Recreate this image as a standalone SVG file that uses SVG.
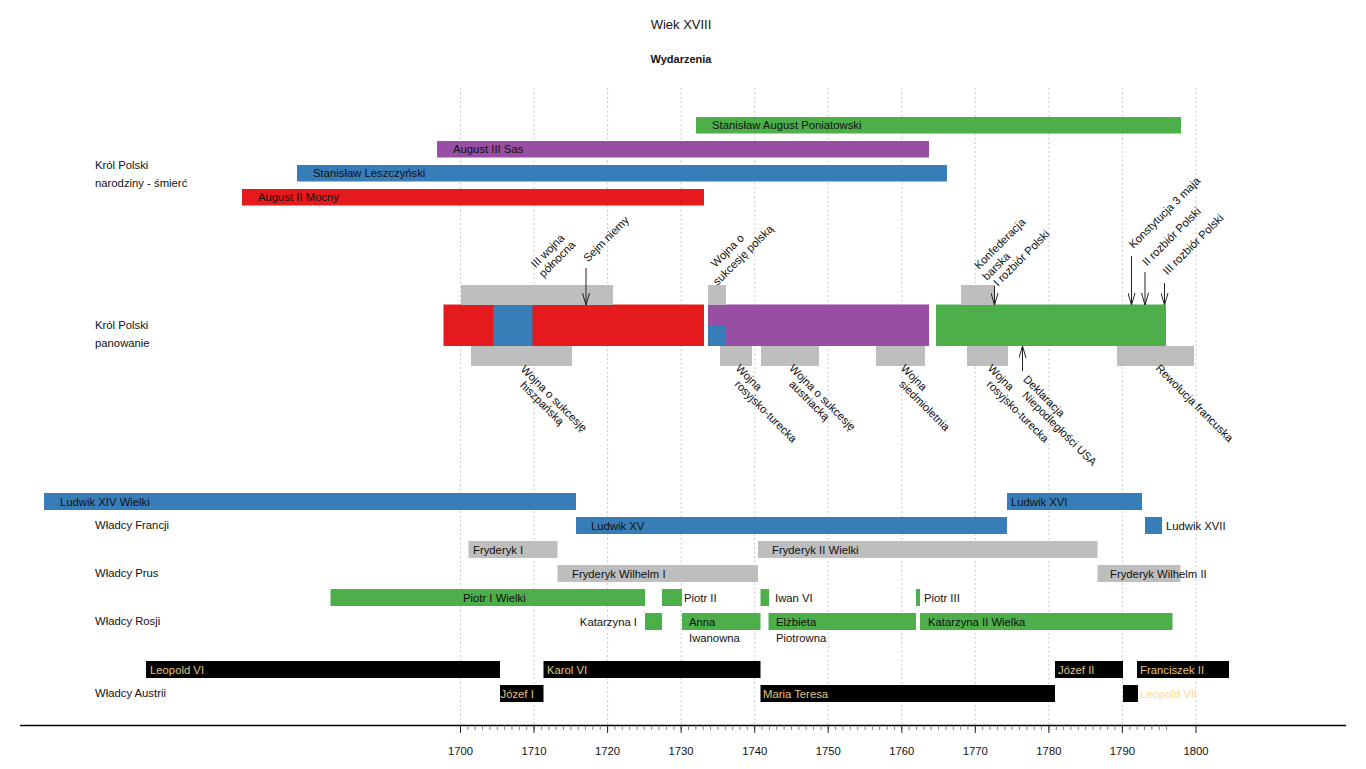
<svg xmlns="http://www.w3.org/2000/svg" width="1366" height="769" viewBox="0 0 1366 769">
<style>
text{font-family:"Liberation Sans",Arial,sans-serif;font-size:11.3px;fill:#111}
.title{font-size:13px}
.bold{font-weight:bold;font-size:11px}
.grid{stroke:#c8c8c8;stroke-width:1;stroke-dasharray:2,2.5}
.red{fill:#e41a1c}.blue{fill:#377eb8}.green{fill:#4daf4a}.purple{fill:#984ea3}.gray{fill:#bebebe}.black{fill:#000}
text.gold{fill:#e2c47e}
text.pale{fill:#ffd98c}
.arr{stroke:#222;stroke-width:1;fill:none}
</style>
<defs>
<marker id="ah" viewBox="0 0 12 8" refX="12" refY="4" markerWidth="12" markerHeight="8" markerUnits="userSpaceOnUse" orient="auto">
<path d="M0,0.5 L12,4 L0,7.5" fill="none" stroke="#222" stroke-width="1"/>
</marker>
</defs>
<rect width="1366" height="769" fill="#fff"/>

<g id="titles">
<text class="title" x="681" y="29" text-anchor="middle">Wiek XVIII</text>
<text class="bold" x="681" y="63" text-anchor="middle">Wydarzenia</text>
</g>

<g id="grid">
<path class="grid" d="M460.5,88V725M534,88V725M607.6,88V725M681.1,88V725M754.7,88V725M828.2,88V725M901.8,88V725M975.3,88V725M1048.9,88V725M1122.4,88V725M1196,88V725"/>
</g>

<g id="row-labels">
<text x="95" y="169">Król Polski</text>
<text x="95" y="187">narodziny - śmierć</text>
<text x="95" y="329">Król Polski</text>
<text x="95" y="347">panowanie</text>
<text x="95" y="529">Władcy Francji</text>
<text x="95" y="577">Władcy Prus</text>
<text x="95" y="625">Władcy Rosji</text>
<text x="95" y="697">Władcy Austrii</text>
</g>

<g id="life-poniatowski"><rect class="green" x="696" y="117" width="485" height="16.5"/><text x="712" y="129">Stanisław August Poniatowski</text></g>
<g id="life-august3"><rect class="purple" x="437" y="141" width="492" height="16.5"/><text x="453" y="153">August III Sas</text></g>
<g id="life-leszczynski"><rect class="blue" x="297" y="165" width="650" height="16.5"/><text x="313" y="177">Stanisław Leszczyński</text></g>
<g id="life-august2"><rect class="red" x="242" y="189" width="462" height="16.5"/><text x="258" y="201">August II Mocny</text></g>

<g id="reign">
<rect class="red" x="443.5" y="304.5" width="260.5" height="41.5"/>
<rect class="blue" x="493.5" y="304.5" width="39" height="41.5"/>
<rect class="purple" x="708" y="304.5" width="221" height="41.5"/>
<rect class="blue" x="708" y="325" width="18" height="21"/>
<rect class="green" x="936" y="304.5" width="230" height="41.5"/>
</g>

<g id="ev-wojna-polnocna"><rect class="gray" x="461" y="285" width="152" height="20"/>
<text transform="translate(535.5,268.5) rotate(-45)">III wojna</text>
<text transform="translate(543.5,278) rotate(-45)">północna</text></g>
<g id="ev-sejm"><text transform="translate(588,262.5) rotate(-45)">Sejm niemy</text></g>
<g id="ev-sukcesja-polska"><rect class="gray" x="708" y="285" width="18" height="20"/>
<text transform="translate(715.5,268) rotate(-45)">Wojna o</text>
<text transform="translate(717.5,286) rotate(-45)">sukcesję polską</text></g>
<g id="ev-konfederacja"><rect class="gray" x="961" y="285" width="34" height="20"/>
<text transform="translate(979,270) rotate(-45)">Konfederacja</text>
<text transform="translate(987,281) rotate(-45)">barska</text>
<text transform="translate(998,287) rotate(-45)">I rozbiór Polski</text></g>
<g id="ev-konstytucja"><text transform="translate(1133.5,249) rotate(-45)">Konstytucja 3 maja</text></g>
<g id="ev-rozbior2"><text transform="translate(1147,266.5) rotate(-45)">II rozbiór Polski</text></g>
<g id="ev-rozbior3"><text transform="translate(1167.5,275.5) rotate(-45)">III rozbiór Polski</text></g>

<g id="ev-hiszpanska"><rect class="gray" x="471" y="346" width="101" height="20"/>
<text transform="translate(520,370) rotate(45)">Wojna o sukcesję</text>
<text transform="translate(519.5,386) rotate(45)">hiszpańską</text></g>
<g id="ev-rosyjsko-turecka1"><rect class="gray" x="720" y="346" width="32" height="20"/>
<text transform="translate(735,369) rotate(45)">Wojna</text>
<text transform="translate(734,385) rotate(45)">rosyjsko-turecka</text></g>
<g id="ev-austriacka"><rect class="gray" x="761" y="346" width="58" height="20"/>
<text transform="translate(788.5,369) rotate(45)">Wojna o sukcesję</text>
<text transform="translate(788.5,385) rotate(45)">austriacką</text></g>
<g id="ev-siedmioletnia"><rect class="gray" x="876" y="346" width="49" height="20"/>
<text transform="translate(900,369) rotate(45)">Wojna</text>
<text transform="translate(898.5,385) rotate(45)">siedmioletnia</text></g>
<g id="ev-rosyjsko-turecka2"><rect class="gray" x="967" y="346" width="41" height="20"/>
<text transform="translate(987,369) rotate(45)">Wojna</text>
<text transform="translate(986,385) rotate(45)">rosyjsko-turecka</text></g>
<g id="ev-deklaracja">
<text transform="translate(1022.5,380) rotate(45)">Deklaracja</text>
<text transform="translate(1021.5,396) rotate(45)">Niepodległości USA</text></g>
<g id="ev-rewolucja"><rect class="gray" x="1117" y="346" width="77" height="20"/>
<text transform="translate(1155,369) rotate(45)">Rewolucja francuska</text></g>

<g id="connectors">
<path class="arr" d="M586,268V305" marker-end="url(#ah)"/>
<path class="arr" d="M994.5,286V305" marker-end="url(#ah)"/>
<path class="arr" d="M1131.5,256V305" marker-end="url(#ah)"/>
<path class="arr" d="M1145,272V305" marker-end="url(#ah)"/>
<path class="arr" d="M1164.5,283V305" marker-end="url(#ah)"/>
<path class="arr" d="M1022.5,371V346" marker-end="url(#ah)"/>
</g>

<g id="france">
<g id="ludwik14"><rect class="blue" x="44" y="493" width="532" height="17"/><text x="60" y="505.5">Ludwik XIV Wielki</text></g>
<g id="ludwik15"><rect class="blue" x="576" y="517" width="431" height="17"/><text x="591" y="529.5">Ludwik XV</text></g>
<g id="ludwik16"><rect class="blue" x="1007" y="493" width="135" height="17"/><text x="1011" y="505.5">Ludwik XVI</text></g>
<g id="ludwik17"><rect class="blue" x="1145" y="517" width="17" height="17"/><text x="1166" y="529.5">Ludwik XVII</text></g>
</g>
<g id="prussia">
<g id="fryderyk1"><rect class="gray" x="468.5" y="541" width="89" height="17"/><text x="473" y="553.5">Fryderyk I</text></g>
<g id="fw1"><rect class="gray" x="557.5" y="565" width="200.5" height="17"/><text x="572" y="577.5">Fryderyk Wilhelm I</text></g>
<g id="fryderyk2"><rect class="gray" x="758" y="541" width="339.5" height="17"/><text x="772" y="553.5">Fryderyk II Wielki</text></g>
<g id="fw2"><rect class="gray" x="1097.5" y="565" width="83" height="17"/><text x="1110" y="577.5">Fryderyk Wilhelm II</text></g>
</g>
<g id="russia">
<g id="piotr1"><rect class="green" x="330.5" y="589" width="314.5" height="17"/><text x="463" y="601.5">Piotr I Wielki</text></g>
<g id="katarzyna1"><rect class="green" x="645" y="613" width="17" height="17"/><text x="637" y="625.5" text-anchor="end">Katarzyna I</text></g>
<g id="piotr2"><rect class="green" x="662" y="589" width="20" height="17"/><text x="684" y="601.5">Piotr II</text></g>
<g id="anna"><rect class="green" x="682" y="613" width="78.5" height="17"/><text x="689" y="625.5">Anna</text><text x="689" y="642">Iwanowna</text></g>
<g id="iwan6"><rect class="green" x="760.5" y="589" width="8.5" height="17"/><text x="775" y="601.5">Iwan VI</text></g>
<g id="elzbieta"><rect class="green" x="768.5" y="613" width="147.5" height="17"/><text x="776" y="625.5">Elżbieta</text><text x="776" y="642">Piotrowna</text></g>
<g id="piotr3"><rect class="green" x="916" y="589" width="4" height="17"/><text x="924" y="601.5">Piotr III</text></g>
<g id="katarzyna2"><rect class="green" x="920" y="613" width="252.5" height="17"/><text x="928" y="625.5">Katarzyna II Wielka</text></g>
</g>
<g id="austria">
<g id="leopold1"><rect class="black" x="146" y="661" width="354" height="17"/><text class="gold" x="150" y="673.5">Leopold VI</text></g>
<g id="jozef1"><rect class="black" x="500" y="685" width="43.5" height="17"/><text class="gold" x="500.5" y="697.5">Józef I</text></g>
<g id="karol6"><rect class="black" x="543.5" y="661" width="217" height="17"/><text class="gold" x="547" y="673.5">Karol VI</text></g>
<g id="mariateresa"><rect class="black" x="760.5" y="685" width="294.5" height="17"/><text class="gold" x="763" y="697.5">Maria Teresa</text></g>
<g id="jozef2"><rect class="black" x="1055" y="661" width="68" height="17"/><text class="gold" x="1058" y="673.5">Józef II</text></g>
<g id="leopold2"><rect class="black" x="1123" y="685" width="15" height="17"/><text class="pale" x="1140" y="697.5">Leopold VII</text></g>
<g id="franciszek2"><rect class="black" x="1137" y="661" width="92" height="17"/><text class="gold" x="1140" y="673.5">Franciszek II</text></g>
</g>

<g id="axis">
<path d="M20,725.5H1346" stroke="#000" stroke-width="1.3"/>
<path stroke="#555" stroke-width="0.7" fill="none" d="M460.5,725v5m7.355,-5v5m7.355,-5v5m7.355,-5v5m7.355,-5v5m7.355,-5v5m7.355,-5v5m7.355,-5v5m7.355,-5v5m7.355,-5v5m7.355,-5v5m7.355,-5v5m7.355,-5v5m7.355,-5v5m7.355,-5v5m7.355,-5v5m7.355,-5v5m7.355,-5v5m7.355,-5v5m7.355,-5v5m7.355,-5v5m7.355,-5v5m7.355,-5v5m7.355,-5v5m7.355,-5v5m7.355,-5v5m7.355,-5v5m7.355,-5v5m7.355,-5v5m7.355,-5v5m7.355,-5v5m7.355,-5v5m7.355,-5v5m7.355,-5v5m7.355,-5v5m7.355,-5v5m7.355,-5v5m7.355,-5v5m7.355,-5v5m7.355,-5v5m7.355,-5v5m7.355,-5v5m7.355,-5v5m7.355,-5v5m7.355,-5v5m7.355,-5v5m7.355,-5v5m7.355,-5v5m7.355,-5v5m7.355,-5v5m7.355,-5v5m7.355,-5v5m7.355,-5v5m7.355,-5v5m7.355,-5v5m7.355,-5v5m7.355,-5v5m7.355,-5v5m7.355,-5v5m7.355,-5v5m7.355,-5v5m7.355,-5v5m7.355,-5v5m7.355,-5v5m7.355,-5v5m7.355,-5v5m7.355,-5v5m7.355,-5v5m7.355,-5v5m7.355,-5v5m7.355,-5v5m7.355,-5v5m7.355,-5v5m7.355,-5v5m7.355,-5v5m7.355,-5v5m7.355,-5v5m7.355,-5v5m7.355,-5v5m7.355,-5v5m7.355,-5v5m7.355,-5v5m7.355,-5v5m7.355,-5v5m7.355,-5v5m7.355,-5v5m7.355,-5v5m7.355,-5v5m7.355,-5v5m7.355,-5v5m7.355,-5v5m7.355,-5v5m7.355,-5v5m7.355,-5v5m7.355,-5v5m7.355,-5v5m7.355,-5v5"/>
<path stroke="#222" stroke-width="1" d="M460.5,725v8M534,725v8M607.6,725v8M681.1,725v8M754.7,725v8M828.2,725v8M901.8,725v8M975.3,725v8M1048.9,725v8M1122.4,725v8M1196,725v8"/>
<g text-anchor="middle">
<text x="460.5" y="755">1700</text><text x="534" y="755">1710</text><text x="607.6" y="755">1720</text><text x="681.1" y="755">1730</text><text x="754.7" y="755">1740</text><text x="828.2" y="755">1750</text><text x="901.8" y="755">1760</text><text x="975.3" y="755">1770</text><text x="1048.9" y="755">1780</text><text x="1122.4" y="755">1790</text><text x="1196" y="755">1800</text>
</g>
</g>
</svg>
